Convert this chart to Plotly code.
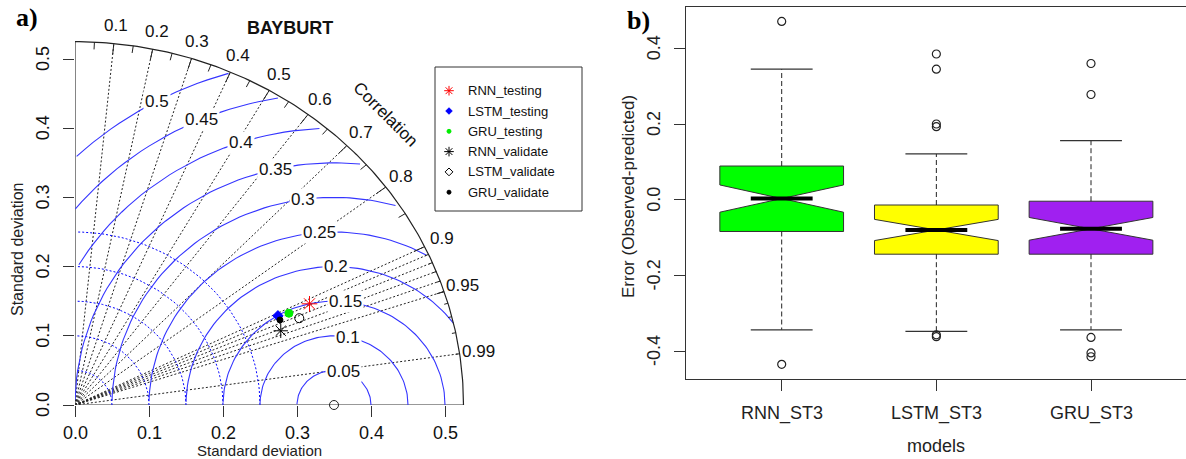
import numpy as np
import plotly.graph_objects as go

W, H = 1186, 459

# ---------------- Taylor diagram data (panel a) ----------------
series_names = ["RNN_testing", "LSTM_testing", "GRU_testing",
                "RNN_validate", "LSTM_validate", "GRU_validate"]
series_sd = [0.349, 0.303, 0.318, 0.298, 0.328, 0.303]
series_cor = [0.908, 0.905, 0.909, 0.933, 0.924, 0.914]
ref_sd = 0.35
max_sd = 0.525
corr_lines = [0.1, 0.2, 0.3, 0.4, 0.5, 0.6, 0.7, 0.8, 0.9,
              0.91, 0.92, 0.93, 0.94, 0.95, 0.99]
corr_labels = [0.1, 0.2, 0.3, 0.4, 0.5, 0.6, 0.7, 0.8, 0.9, 0.95, 0.99]
sd_arcs = [0.05, 0.10, 0.15, 0.20, 0.25]
rms_levels = [0.05, 0.10, 0.15, 0.20, 0.25, 0.30, 0.35, 0.40, 0.45, 0.50]
sd_ticks = [0.0, 0.1, 0.2, 0.3, 0.4, 0.5]
sd_ticktext = ["0.0", "0.1", "0.2", "0.3", "0.4", "0.5"]

# ---------------- Box plot data (panel b) ----------------
box_models = ["RNN_ST3", "LSTM_ST3", "GRU_ST3"]
box_lower = [-0.344, -0.348, -0.344]
box_q1 = [-0.084, -0.144, -0.144]
box_median = [0.003, -0.080, -0.077]
box_q3 = [0.089, -0.014, -0.004]
box_upper = [0.345, 0.121, 0.156]
box_notch = [0.036, 0.028, 0.030]
rnn_outliers = [0.471, -0.435]
lstm_outliers = [0.385, 0.345, 0.200, 0.193, -0.357, -0.362]
gru_outliers = [0.360, 0.278, -0.364, -0.405, -0.415]
err_ticks = [-0.4, -0.2, 0.0, 0.2, 0.4]
err_ticktext = ["-0.4", "-0.2", "0.0", "0.2", "0.4"]

# ---------------- styles ----------------
SANS = "Liberation Sans, Arial, sans-serif"
SERIF = "Liberation Serif, Times New Roman, serif"
BLUE = "#3535FF"
TXT = "#111111"
series_style = [
    dict(symbol="asterisk-open", color="#FF0000", size=13, lsize=8),
    dict(symbol="diamond", color="#0000FF", size=8, lsize=5),
    dict(symbol="circle", color="#00EE00", size=8, lsize=4),
    dict(symbol="asterisk-open", color="#000000", size=12, lsize=8),
    dict(symbol="circle-open", color="#000000", size=9, lsize=6),
    dict(symbol="circle", color="#000000", size=6, lsize=4),
]
box_colors = ["#00FF00", "#FFFF00", "#A020F0"]

# ---------------- pixel geometry ----------------
LX0, LPX = 75.0, 740.0          # left panel origin x, px per unit
LY0, LPY = 405.0, 692.0         # left panel origin y, px per unit
LRANGE = 0.5775
RX_L, RX_PX, RX_C1 = 685.7, 154.65, 781.7
RY_T, RY_B = 6.7, 379.3
RY_PX, RY_0 = 378.4, 199.7


def px2paper_x(px):
    return px / W


def px2paper_y(py):
    return (H - py) / H


def label(x, y, text, size, family=SANS, angle=0, xanchor="center", xref="paper",
          yref="paper", bg=None, color=TXT):
    d = dict(x=x, y=y, xref=xref, yref=yref, text=text, showarrow=False,
             xanchor=xanchor, yanchor="middle", textangle=angle,
             font=dict(family=family, size=size, color=color))
    if bg:
        d.update(bgcolor=bg, borderpad=1)
    return d


fig = go.Figure()
annotations = []

# ---- correlation radial lines (dotted) ----
xs, ys = [], []
for c in corr_lines:
    xs += [0, max_sd * c, None]
    ys += [0, max_sd * np.sqrt(1 - c * c), None]
fig.add_trace(go.Scatter(x=xs, y=ys, mode="lines", xaxis="x", yaxis="y",
                         line=dict(color="#222222", width=1, dash="2px,2px"),
                         hoverinfo="skip", showlegend=False))

# ---- axis segments ----
fig.add_trace(go.Scatter(x=[0, 0, None, 0, max_sd], y=[max_sd, 0, None, 0, 0],
                         mode="lines", xaxis="x", yaxis="y",
                         line=dict(color="#333333", width=1.2),
                         hoverinfo="skip", showlegend=False))

# ---- sd arcs (blue dotted) ----
th_q = np.arange(0, np.pi / 2, 0.03)
xs, ys = [], []
for s in sd_arcs:
    xs += list(np.cos(th_q) * s) + [None]
    ys += list(np.sin(th_q) * s) + [None]
fig.add_trace(go.Scatter(x=xs, y=ys, mode="lines", xaxis="x", yaxis="y",
                         line=dict(color="#0000FF", width=1, dash="2px,2px"),
                         hoverinfo="skip", showlegend=False))

# ---- centred RMS contours ----
th_h = np.arange(0, np.pi, 0.03)
labelpos = np.linspace(45, 70, len(rms_levels))
xs, ys = [], []
rms_label_pts = []
for gi, g in enumerate(rms_levels):
    xc = np.cos(th_h) * g + ref_sd
    yc = np.sin(th_h) * g
    neg = np.where(xc < 0)[0]
    end = neg.min() if len(neg) else len(xc)
    out = np.where(xc ** 2 + yc ** 2 > max_sd ** 2)[0]
    start = out.max() + 1 if len(out) else 0
    xs += list(xc[start:end]) + [None]
    ys += list(yc[start:end]) + [None]
    li = int(labelpos[gi]) - 1
    if xc[li] > 0:
        rms_label_pts.append((xc[li], yc[li], g))
fig.add_trace(go.Scatter(x=xs, y=ys, mode="lines", xaxis="x", yaxis="y",
                         line=dict(color=BLUE, width=1.1),
                         hoverinfo="skip", showlegend=False))

# ---- outer arc ----
th_o = np.arange(0, np.pi / 2 + 0.005, 0.01)
fig.add_trace(go.Scatter(x=list(np.cos(th_o) * max_sd) + [0],
                         y=list(np.sin(th_o) * max_sd) + [max_sd],
                         mode="lines", xaxis="x", yaxis="y",
                         line=dict(color="#222222", width=1.2),
                         hoverinfo="skip", showlegend=False))

# ---- arc tick marks ----
xs, ys = [], []
for vals, frac in ((np.arange(0.1, 0.95, 0.1), 0.97),
                   (np.arange(0.05, 1.0, 0.1), 0.98),
                   (np.arange(0.91, 0.995, 0.01), 0.99)):
    for v in vals:
        a = np.arccos(v)
        xs += [np.cos(a) * max_sd, np.cos(a) * frac * max_sd, None]
        ys += [np.sin(a) * max_sd, np.sin(a) * frac * max_sd, None]
fig.add_trace(go.Scatter(x=xs, y=ys, mode="lines", xaxis="x", yaxis="y",
                         line=dict(color="#222222", width=1),
                         hoverinfo="skip", showlegend=False))

# ---- reference point ----
fig.add_trace(go.Scatter(x=[ref_sd], y=[0], mode="markers", xaxis="x", yaxis="y",
                         marker=dict(symbol="circle-open", size=9, color="#222222",
                                     line=dict(width=1)),
                         hoverinfo="skip", showlegend=False, cliponaxis=False))

# ---- model points ----
for name, sd, cr, st in zip(series_names, series_sd, series_cor, series_style):
    a = np.arccos(cr)
    fig.add_trace(go.Scatter(x=[sd * np.cos(a)], y=[sd * np.sin(a)], mode="markers",
                             xaxis="x", yaxis="y", name=name,
                             marker=dict(symbol=st["symbol"], size=st["size"],
                                         color=st["color"],
                                         line=dict(width=1, color=st["color"])),
                             showlegend=False))

# RMS labels (boxed, white background)
for x, y, g in rms_label_pts:
    annotations.append(label(x, y, f"{g:g}", 17, xref="x", yref="y", bg="white"))
# correlation labels
for c in corr_labels:
    a = np.arccos(c)
    annotations.append(label(np.cos(a) * 1.05 * max_sd, np.sin(a) * 1.05 * max_sd,
                             f"{c:g}", 17, xref="x", yref="y"))
annotations.append(label(0.8 * max_sd, 0.8 * max_sd, "Correlation", 17, angle=45,
                         xref="x", yref="y"))
annotations.append(label(px2paper_x(290), px2paper_y(28), "<b>BAYBURT</b>", 18))
annotations.append(label(px2paper_x(259), px2paper_y(450), "Standard deviation", 15,
                         color="#222222"))
annotations.append(label(px2paper_x(17), px2paper_y(250), "Standard deviation", 16,
                         angle=-90, color="#222222"))
annotations.append(label(px2paper_x(27), px2paper_y(18), "<b>a)</b>", 26, family=SERIF,
                         color="#000000"))
annotations.append(label(px2paper_x(638), px2paper_y(21), "<b>b)</b>", 26, family=SERIF,
                         color="#000000"))
# left tick labels
for v, t in zip(sd_ticks, sd_ticktext):
    annotations.append(label(px2paper_x(LX0 + v * LPX), px2paper_y(433), t, 18))
    annotations.append(label(px2paper_x(43), px2paper_y(LY0 - v * LPY), t, 18, angle=-90))

# ---- custom legend (panel a) ----
LEG_X0, LEG_Y0, LEG_X1, LEG_Y1 = 435, 67, 582, 211
row_y = [90.7 + 20.3 * i for i in range(len(series_names))]
for name, st, ry in zip(series_names, series_style, row_y):
    sym = st["symbol"] if st["symbol"] != "circle-open" else "diamond-open"
    fig.add_trace(go.Scatter(x=[(449 - LX0) / LPX], y=[(LY0 - ry) / LPY], mode="markers",
                             xaxis="x", yaxis="y", cliponaxis=False,
                             marker=dict(symbol=sym, size=st["lsize"], color=st["color"],
                                         line=dict(width=1, color=st["color"])),
                             hoverinfo="skip", showlegend=False))
    annotations.append(label(px2paper_x(466), px2paper_y(ry), name, 13, xanchor="left"))

# ---------------- panel b: box plots ----------------
outliers = [rnn_outliers, lstm_outliers, gru_outliers]
for i in range(len(box_models)):
    p = i + 1
    fig.add_trace(go.Scatter(x=[p, p, None, p, p],
                             y=[box_q3[i], box_upper[i], None, box_q1[i], box_lower[i]],
                             mode="lines", xaxis="x2", yaxis="y2",
                             line=dict(color="#222222", width=1, dash="5px,3px"),
                             hoverinfo="skip", showlegend=False))
    fig.add_trace(go.Scatter(x=[p - 0.2, p + 0.2, None, p - 0.2, p + 0.2],
                             y=[box_upper[i], box_upper[i], None, box_lower[i], box_lower[i]],
                             mode="lines", xaxis="x2", yaxis="y2",
                             line=dict(color="#333333", width=1.2),
                             hoverinfo="skip", showlegend=False))
    fig.add_trace(go.Box(x=[p], q1=[box_q1[i]], median=[box_median[i]], q3=[box_q3[i]],
                         lowerfence=[box_q1[i]], upperfence=[box_q3[i]],
                         notchspan=[box_notch[i]], notched=True, notchwidth=0.5,
                         width=0.8, whiskerwidth=0, boxpoints=False,
                         fillcolor=box_colors[i], line=dict(color="#333333", width=1),
                         xaxis="x2", yaxis="y2", name=box_models[i], showlegend=False))
    fig.add_trace(go.Scatter(x=[p - 0.2, p + 0.2], y=[box_median[i], box_median[i]],
                             mode="lines", xaxis="x2", yaxis="y2",
                             line=dict(color="#000000", width=4),
                             hoverinfo="skip", showlegend=False))
    fig.add_trace(go.Scatter(x=[p] * len(outliers[i]), y=outliers[i], mode="markers",
                             xaxis="x2", yaxis="y2",
                             marker=dict(symbol="circle-open", size=8, color="#222222",
                                         line=dict(width=1.2)),
                             hoverinfo="skip", showlegend=False))
    annotations.append(label(px2paper_x(RX_C1 + i * RX_PX), px2paper_y(413),
                             box_models[i], 18, color="#222222"))

for v, t in zip(err_ticks, err_ticktext):
    annotations.append(label(px2paper_x(654), px2paper_y(RY_0 - v * RY_PX), t, 18,
                             angle=-90, color="#222222"))
annotations.append(label(px2paper_x(936), px2paper_y(446), "models", 18, color="#222222"))
annotations.append(label(px2paper_x(628), px2paper_y(197), "Error (Observed-predicted)",
                         17, angle=-90, color="#222222"))

shapes = [dict(type="rect", xref="paper", yref="paper",
               x0=px2paper_x(LEG_X0), x1=px2paper_x(LEG_X1),
               y0=px2paper_y(LEG_Y1), y1=px2paper_y(LEG_Y0),
               line=dict(color="#333333", width=1), fillcolor="rgba(0,0,0,0)", layer="below")]

left_x1 = LX0 + LRANGE * LPX
left_yt = LY0 - LRANGE * LPY
r_x_hi = 1 + (W - RX_C1) / RX_PX
r_x_lo = 1 - (RX_C1 - RX_L) / RX_PX
r_y_hi = (RY_0 - RY_T) / RY_PX
r_y_lo = -(RY_B - RY_0) / RY_PX

fig.update_layout(
    width=W, height=H, margin=dict(l=0, r=0, t=0, b=0),
    paper_bgcolor="white", plot_bgcolor="white", showlegend=False,
    annotations=annotations, shapes=shapes,
    xaxis=dict(domain=[px2paper_x(LX0), px2paper_x(left_x1)], range=[0, LRANGE],
               anchor="y", showgrid=False, zeroline=False, showline=False,
               tickvals=sd_ticks, showticklabels=False, ticks="outside", ticklen=11,
               tickcolor="#333333", automargin=False),
    yaxis=dict(domain=[px2paper_y(LY0), px2paper_y(left_yt)], range=[0, LRANGE],
               anchor="x", showgrid=False, zeroline=False, showline=False,
               tickvals=sd_ticks, showticklabels=False, ticks="outside", ticklen=11,
               tickcolor="#333333", automargin=False),
    xaxis2=dict(domain=[px2paper_x(RX_L), 1.0], range=[r_x_lo, r_x_hi], anchor="y2",
                showgrid=False, zeroline=False, showline=True, mirror=True,
                linecolor="#333333", linewidth=1.3,
                tickvals=[1, 2, 3], showticklabels=False, ticks="outside", ticklen=11,
                tickcolor="#333333", automargin=False),
    yaxis2=dict(domain=[px2paper_y(RY_B), px2paper_y(RY_T)], range=[r_y_lo, r_y_hi],
                anchor="x2", showgrid=False, zeroline=False, showline=True, mirror=False,
                linecolor="#333333", linewidth=1.3,
                tickvals=err_ticks, showticklabels=False, ticks="outside", ticklen=11,
                tickcolor="#333333", automargin=False),
)

fig.write_html("out.html", config={"displayModeBar": False},
               post_script="document.body.style.margin='0';")
